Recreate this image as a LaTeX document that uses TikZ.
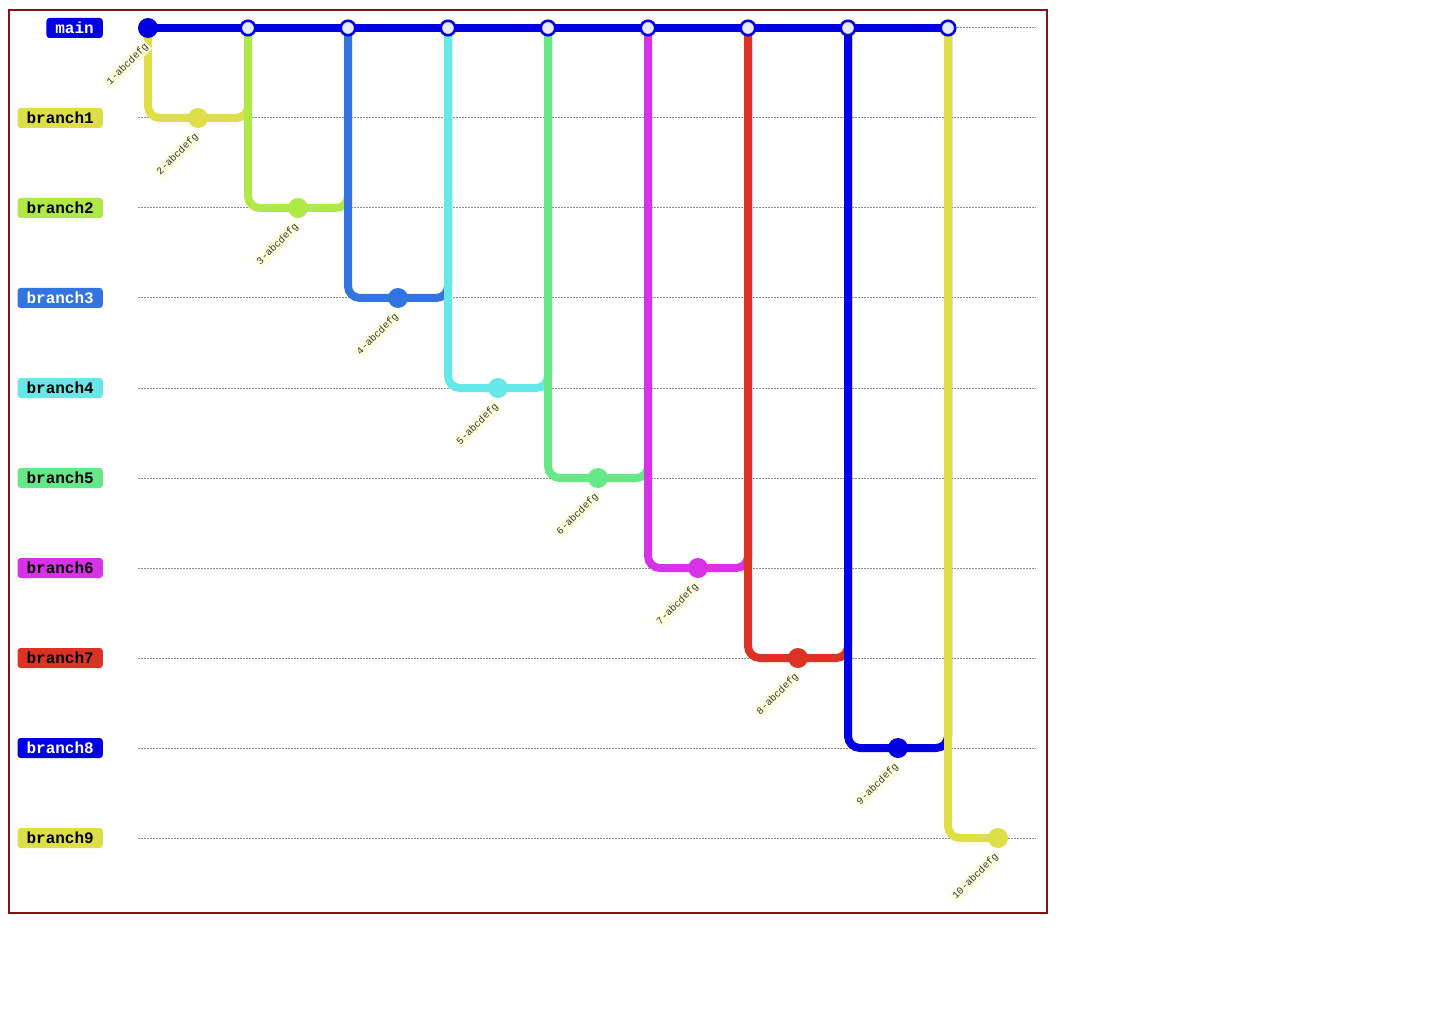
\documentclass[tikz,border=0pt]{standalone}
\usepackage{fontspec}
\newfontfamily\gitmono{Liberation Mono}
\usetikzlibrary{backgrounds}
\definecolor{gitblue}{RGB}{0,0,224}
\definecolor{gityellow}{RGB}{222,222,72}
\definecolor{gitlime}{RGB}{176,232,72}
\definecolor{gitsky}{RGB}{51,117,224}
\definecolor{gitcyan}{RGB}{102,232,232}
\definecolor{gitgreen}{RGB}{102,232,136}
\definecolor{gitmagenta}{RGB}{216,50,232}
\definecolor{gitred}{RGB}{220,50,36}
\definecolor{lavender}{RGB}{234,234,255}
\definecolor{cream}{RGB}{255,255,222}
\definecolor{maroon}{RGB}{128,20,20}
\tikzset{
  frame/.style={draw=maroon,line width=2pt},
  row/.style={draw=black!45,line width=1pt,dash pattern=on 1.5pt off 1.5pt},
  trunk/.style={draw=gitblue,line width=8pt},
  track/.style={draw=#1,line width=8pt,rounded corners=12pt},
  commit/.style={circle,fill=#1,minimum size=20pt,inner sep=0pt},
  commit/.default=gitblue,
  merge/.style={circle,draw=gitblue,fill=lavender,line width=2.6pt,minimum size=14.5pt,inner sep=0pt},
  bname/.style={fill=#1,rounded corners=3pt,anchor=east,minimum height=20pt,
    inner xsep=9pt,inner ysep=0pt,font=\gitmono\bfseries\fontsize{16pt}{18pt}\selectfont},
  clabel/.style={fill=cream,text=black!80,rotate=45,anchor=east,inner sep=1.5pt,
    font=\gitmono\fontsize{10pt}{11pt}\selectfont},
}
\begin{document}
\begin{tikzpicture}[x=1pt,y=-1pt]
  \useasboundingbox (0,0) rectangle (1440,1024);
  \draw[frame] (9,10) rectangle (1047,913);
  % main line
  \node[bname=gitblue,text=white] (nmain) at (103,28) {main};
  \node[commit] (m1) at (148,28) {};
  \foreach \k in {2,...,9}
    \node[merge] (m\k) at ({48+100*\k},28) {};
  \node[clabel] (l1) at ([yshift=-16pt]m1.center) {1-abcdefg};
  % branches
  \foreach \k/\c/\t in {1/gityellow/black,2/gitlime/black,3/gitsky/white,
      4/gitcyan/black,5/gitgreen/black,6/gitmagenta/black,7/gitred/black,
      8/gitblue/white,9/gityellow/black}
  {
    \node[bname=\c,text=\t] (n\k) at (103,{28+90*\k}) {branch\k};
    \node[commit=\c] (b\k) at ({98+100*\k},{28+90*\k}) {};
    \pgfmathtruncatemacro\n{\k+1}
    \node[clabel] (l\n) at ([yshift=-16pt]b\k.center) {\n-abcdefg};
  }
  \begin{scope}[on background layer]
    \foreach \k in {0,...,9}
      \draw[row] (138,{28+90*\k}) -- (1036,{28+90*\k});
    \draw[trunk] (m1.center) -- (m9.center);
    \foreach \k/\c [evaluate=\k as \j using int(\k+1)] in {1/gityellow,2/gitlime,
        3/gitsky,4/gitcyan,5/gitgreen,6/gitmagenta,7/gitred,8/gitblue}
      \draw[track=\c] (m\k.center) |- (b\k.center) -| (m\j.center);
    \draw[track=gityellow] (m9.center) |- (b9.center);
  \end{scope}
\end{tikzpicture}
\end{document}
